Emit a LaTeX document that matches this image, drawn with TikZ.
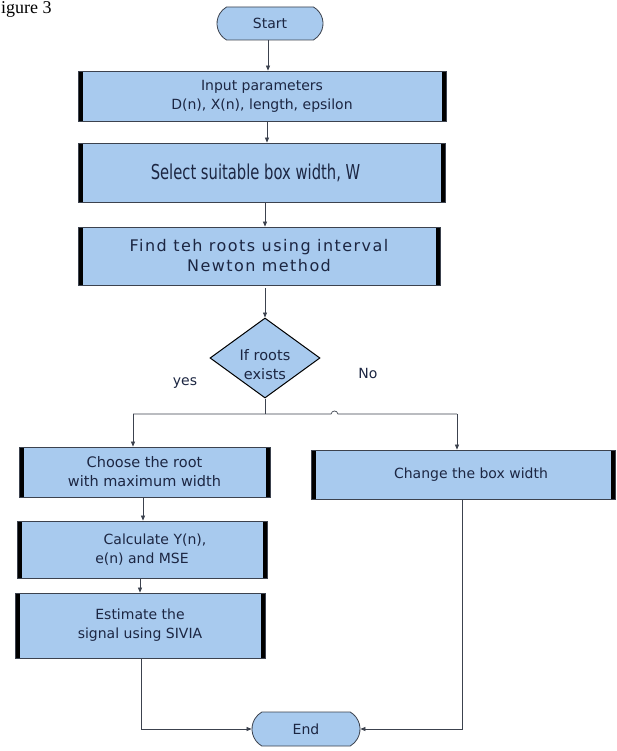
\documentclass[tikz,border=0pt]{standalone}
\usepackage{fontspec}
\setmainfont{DejaVu Sans}
\newfontfamily\capfont{Liberation Serif}
\newfontfamily\narrowfont[FakeStretch=0.72]{DejaVu Sans}
\newfontfamily\widefont[LetterSpace=9]{DejaVu Sans}
\usetikzlibrary{shapes.geometric,shapes.misc,arrows.meta}
\definecolor{boxblue}{RGB}{168,202,238}
\definecolor{inkblue}{RGB}{28,38,66}
\definecolor{edgegray}{RGB}{60,66,78}
\tikzset{
  procbox/.style={draw=edgegray, fill=boxblue, text=inkblue, align=center,
    inner sep=0pt, line width=0.8pt, font=\fontsize{14}{19}\selectfont,
    path picture={
      \fill[black] (path picture bounding box.south west) rectangle ([xshift=4.5pt]path picture bounding box.north west);
      \fill[black] (path picture bounding box.south east) rectangle ([xshift=-4.5pt]path picture bounding box.north east);}},
  termbox/.style={rounded rectangle, rounded rectangle arc length=120,
    draw=edgegray, line width=0.8pt, fill=boxblue, text=inkblue, inner sep=0pt,
    minimum height=33pt, font=\fontsize{14}{16}\selectfont},
  testbox/.style={diamond, draw=black, line width=1pt, fill=boxblue,
    minimum width=110pt, minimum height=80pt, inner sep=0pt},
  flow/.style={draw=edgegray, line width=0.7pt},
  >={Triangle[length=5pt,width=4pt]}
}
\begin{document}
\begin{tikzpicture}[x=1pt, y=-1pt]
  \useasboundingbox[fill=white] (0,0) rectangle (617,751);
  \node[anchor=base west, inner sep=0pt, font=\capfont\fontsize{18}{18}\selectfont] (caption) at (1,14) {igure 3};

  \node[termbox, minimum width=106pt] (start) at (270,23.5) {Start};
  \node[procbox, minimum width=368pt, minimum height=50pt] (input) at (262,96)
    {Input parameters\\D(n), X(n), length, epsilon};
  \node[procbox, minimum width=367pt, minimum height=59pt, font=\narrowfont\fontsize{20.5}{24}\selectfont] (select) at (261.5,172.5)
    {Select suitable box width, W\hspace*{12pt}};
  \node[procbox, minimum width=362pt, minimum height=58pt, font=\widefont\fontsize{16}{20}\selectfont] (find) at (259,256)
    {Find teh roots using interval\\Newton method};
  \node[testbox, label={[yshift=-7pt, text=inkblue, align=center, font=\fontsize{14.5}{19}\selectfont]center:If roots\\exists}] (cond) at (265,358) {};
  \node[text=inkblue, font=\fontsize{14}{16}\selectfont] (yes) at (185,383) {yes};
  \node[text=inkblue, font=\fontsize{14}{16}\selectfont] (no) at (368,373) {No};

  \node[procbox, minimum width=251pt, minimum height=50pt, font=\fontsize{14.5}{19}\selectfont] (choose) at (144.5,472)
    {Choose the root\\with maximum width};
  \node[procbox, minimum width=304pt, minimum height=49pt] (change) at (463,474.5)
    {\hspace*{16pt}Change the box width};
  \node[procbox, minimum width=250pt, minimum height=57pt] (calc) at (142,549.5)
    {\hspace*{26pt}Calculate Y(n),\\e(n) and MSE};
  \node[procbox, minimum width=250pt, minimum height=65pt] (estimate) at (140,625.5)
    {Estimate the\\signal using SIVIA};
  \node[termbox, minimum width=108pt, minimum height=34pt] (stop) at (306,729) {End};

  \coordinate (split) at (265,414);
  \coordinate (yesend) at (133,414);
  \coordinate (noend) at (457,414);
  \coordinate (leftdrop) at (141,729);
  \coordinate (rightdrop) at (462,729);

  \draw[flow, ->] (start.south -| 268,0) -- (input.north -| 268,0);
  \draw[flow, ->] (input.south -| 267,0) -- (select.north -| 267,0);
  \draw[flow, ->] (select.south -| 265,0) -- (find.north -| 265,0);
  \draw[flow, ->] ([yshift=-3pt]find.south -| cond) -- (cond.north);
  \draw[flow] (cond.south) -- (split);
  \draw[flow] (yesend) -- (331,414) .. controls (332,410) and (337,410) .. (338,414) -- (noend);
  \draw[flow, ->] (yesend) -- (yesend |- choose.north);
  \draw[flow, ->] (noend) -- (noend |- change.north);
  \draw[flow, ->] (choose.south -| 143,0) -- (calc.north -| 143,0);
  \draw[flow, ->] (calc.south -| 140,0) -- (estimate.north -| 140,0);
  \draw[flow, ->] (estimate.south -| leftdrop) -- (leftdrop) -- (stop.west);
  \draw[flow, ->] (change.south -| rightdrop) -- (rightdrop) -- (stop.east);
\end{tikzpicture}
\end{document}
